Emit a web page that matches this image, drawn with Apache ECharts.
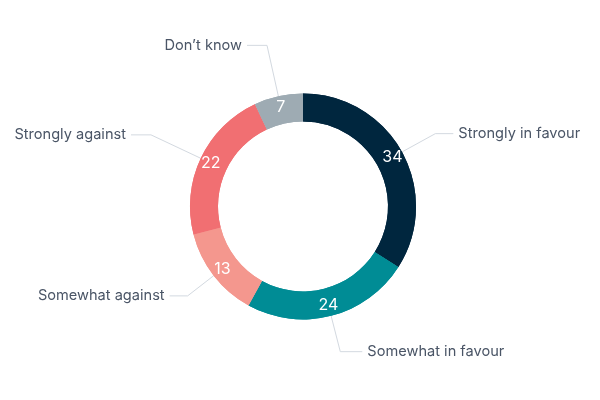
<!DOCTYPE html>
<html>
<head>
<meta charset="utf-8">
<script src="https://cdn.jsdelivr.net/npm/echarts@6/dist/echarts.min.js"></script>
<style>
  html, body { margin: 0; padding: 0; background: #fff; }
  #chart { width: 600px; height: 400px; }
</style>
</head>
<body>
<div id="chart"></div>
<script>
// Chart data
const categories = [
  "Strongly in favour",
  "Somewhat in favour",
  "Somewhat against",
  "Strongly against",
  "Don\u2019t know",
];
const values = [34, 24, 13, 22, 7];
const colors = ["#00263e", "#008c95", "#f4978e", "#f16f72", "#9eabb3"];

// connector lengths per slice (radial part, horizontal part)
const lineLen = [38, 37, 33, 55, 52];
const lineLen2 = [18, 22, 18, 20, 20];

const chart = echarts.init(document.getElementById("chart"), null, {
  renderer: "canvas",
});

const ring = {
  type: "pie",
  center: ["50.5%", "51.6%"],
  radius: ["42.5%", "56.5%"],
  startAngle: 90,
  clockwise: true,
  avoidLabelOverlap: false,
  animation: false,
  emphasis: { disabled: true },
};

chart.setOption({
  backgroundColor: "#ffffff",
  textStyle: { fontFamily: "Inter, 'Open Sans', sans-serif" },
  series: [
    {
      ...ring,
      // outside labels with connectors
      label: {
        show: true,
        position: "outside",
        formatter: "{b}",
        color: "#4a5566",
        fontSize: 14.6,
        fontFamily: "Inter, sans-serif",
        distanceToLabelLine: 5,
      },
      labelLine: {
        show: true,
        lineStyle: { color: "#d3d9e0", width: 1 },
      },
      data: categories.map((name, i) => ({
        name: name,
        value: values[i],
        itemStyle: { color: colors[i] },
        labelLine: { length: lineLen[i], length2: lineLen2[i] },
      })),
    },
    {
      ...ring,
      silent: true,
      // values inside the ring
      label: {
        show: true,
        position: "inside",
        formatter: "{c}",
        color: "#ffffff",
        fontSize: 16,
        fontFamily: "Inter, sans-serif",
      },
      labelLine: { show: false },
      data: categories.map((name, i) => ({
        name: name,
        value: values[i],
        itemStyle: { color: colors[i] },
      })),
    },
  ],
});
</script>
</body>
</html>
